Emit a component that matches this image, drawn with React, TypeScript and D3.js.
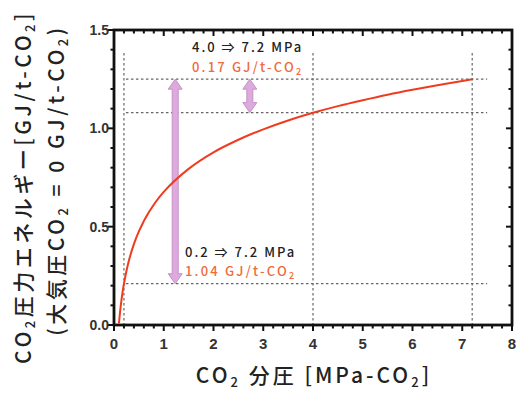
import React from "react";
import * as d3 from "d3";

const curveX = [0.1, 0.12, 0.15, 0.2, 0.3, 0.4, 0.5, 0.7, 1.0, 1.5, 2.0, 2.5, 3.0, 3.5, 4.0, 4.5, 5.0, 5.5, 6.0, 6.5, 7.0, 7.2];
const curveY = [0.009, 0.062, 0.127, 0.21, 0.328, 0.411, 0.476, 0.573, 0.677, 0.794, 0.878, 0.942, 0.995, 1.04, 1.079, 1.113, 1.143, 1.171, 1.196, 1.219, 1.241, 1.249];
const xTicks = [0, 1, 2, 3, 4, 5, 6, 7, 8];
const yTicks = [0, 0.5, 1.0, 1.5];
const refX = [0.2, 4.0, 7.2];
const refY = [0.21, 1.08, 1.25];
const arrows = [
  { x: 1.23, y0: 0.21, y1: 1.25 },
  { x: 2.73, y0: 1.08, y1: 1.25 },
];

const W = 517, H = 394;
const L = 114, R = 512, T = 30, B = 325;

export default function App() {
  const x = d3.scaleLinear().domain([0, 8]).range([L, R]);
  const y = d3.scaleLinear().domain([0, 1.5]).range([B, T]);
  const line = d3.line<number>().x((_, i) => x(curveX[i])).y((d) => y(d)).curve(d3.curveCatmullRom);
  const xMinor = d3.range(0, 8.001, 0.2);
  const yMinor = d3.range(0, 1.5001, 0.1);
  const dark = "#222";
  const orange = "#f06a3a";
  const font = "'Noto Sans CJK JP', 'DejaVu Sans', sans-serif";
  const tickFont = "'Liberation Sans', Arial, sans-serif";
  const arrowPath = (ax: number, y0: number, y1: number) => {
    const cx = x(ax);
    const top = y(y1), bot = y(y0);
    const hw = 7, sw = 3, hh = 10;
    return `M${cx},${top} L${cx + hw},${top + hh} L${cx + sw},${top + hh} L${cx + sw},${bot - hh} L${cx + hw},${bot - hh} L${cx},${bot} L${cx - hw},${bot - hh} L${cx - sw},${bot - hh} L${cx - sw},${top + hh} L${cx - hw},${top + hh} Z`;
  };
  return (
    <svg width={W} height={H} style={{ position: "absolute", left: 0, top: 0, background: "#fff" }} fontFamily={font}>
      {refX.map((v) => (
        <line key={"vx" + v} x1={x(v)} x2={x(v)} y1={53} y2={B} stroke="#666" strokeWidth={1.2} strokeDasharray="2.5,2.5" />
      ))}
      {refY.map((v) => (
        <line key={"hy" + v} x1={x(0.2) + 2} x2={x(7.5)} y1={y(v)} y2={y(v)} stroke="#666" strokeWidth={1.2} strokeDasharray="2.5,2.5" />
      ))}
      {arrows.map((a, i) => (
        <path key={"ar" + i} d={arrowPath(a.x, a.y0, a.y1)} fill="#dcaadc" stroke="#c890c8" strokeWidth={1} />
      ))}
      <path d={line(curveY) || ""} fill="none" stroke="#f03c1e" strokeWidth={2} />
      <rect x={L} y={T} width={R - L} height={B - T} fill="none" stroke="#111" strokeWidth={2.8} />
      {xMinor.map((v, i) => {
        const major = i % 5 === 0;
        const len = major ? 6 : 3.5;
        return (
          <g key={"xt" + i}>
            <line x1={x(v)} x2={x(v)} y1={B} y2={B + len} stroke="#111" strokeWidth={2} />
            <line x1={x(v)} x2={x(v)} y1={T} y2={T + len} stroke="#111" strokeWidth={2} />
          </g>
        );
      })}
      {yMinor.map((v, i) => {
        const major = i % 5 === 0;
        const len = major ? 6 : 3.5;
        return (
          <g key={"yt" + i}>
            <line x1={L - len} x2={L} y1={y(v)} y2={y(v)} stroke="#111" strokeWidth={2} />
            <line x1={R - len} x2={R} y1={y(v)} y2={y(v)} stroke="#111" strokeWidth={2} />
          </g>
        );
      })}
      {xTicks.map((v) => (
        <text key={"xl" + v} x={x(v)} y={B + 24} textAnchor="middle" fontSize={15} fontWeight="bold" fill="#333" fontFamily={tickFont}>{v}</text>
      ))}
      {yTicks.map((v) => (
        <text key={"yl" + v} x={L - 5} y={y(v) + 5} textAnchor="end" fontSize={14} fontWeight="bold" fill="#333" fontFamily={tickFont}>{v.toFixed(1)}</text>
      ))}
      <text x={192} y={52} fontSize={13} fill={dark} letterSpacing={2} fontWeight={500}>4.0 ⇒ 7.2 MPa</text>
      <text x={192} y={72} fontSize={13} fill={orange} letterSpacing={2.2} fontWeight={500}>0.17 GJ/t-CO<tspan fontSize={9} dy={3}>2</tspan></text>
      <text x={185} y={257} fontSize={13} fill={dark} letterSpacing={2} fontWeight={500}>0.2 ⇒ 7.2 MPa</text>
      <text x={185} y={276} fontSize={13} fill={orange} letterSpacing={2.2} fontWeight={500}>1.04 GJ/t-CO<tspan fontSize={9} dy={3}>2</tspan></text>
      <text x={314} y={383} textAnchor="middle" fontSize={21} fill={dark} letterSpacing={3} fontWeight={500}>
        CO<tspan fontSize={13} dy={4}>2</tspan><tspan dy={-4}> 分圧 [MPa-CO</tspan><tspan fontSize={13} dy={4}>2</tspan><tspan dy={-4}>]</tspan>
      </text>
      <g transform="translate(31,187) rotate(-90)">
        <text x={0} y={0} textAnchor="middle" fontSize={21} fill={dark} letterSpacing={3.5} fontWeight={500}>
          CO<tspan fontSize={13} dy={4}>2</tspan><tspan dy={-4}>圧力エネルギー[GJ/t-CO</tspan><tspan fontSize={13} dy={4}>2</tspan><tspan dy={-4}>]</tspan>
        </text>
      </g>
      <g transform="translate(64,180) rotate(-90)">
        <text x={0} y={0} textAnchor="middle" fontSize={21} fill={dark} letterSpacing={3.5} fontWeight={500}>
          (大気圧CO<tspan fontSize={13} dy={4}>2</tspan><tspan dy={-4}> = 0 GJ/t-CO</tspan><tspan fontSize={13} dy={4}>2</tspan><tspan dy={-4}>)</tspan>
        </text>
      </g>
    </svg>
  );
}
